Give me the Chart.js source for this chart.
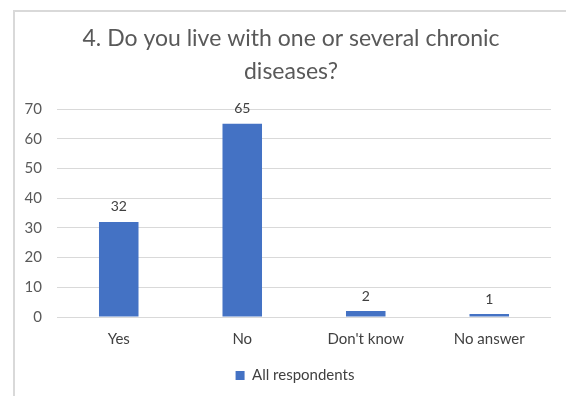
<!DOCTYPE html>
<html>
<head>
<meta charset="utf-8">
<script src="https://cdn.jsdelivr.net/npm/chart.js@4"></script>
<style>
  html, body { margin: 0; padding: 0; background: #fff; overflow: hidden; }
  #wrap {
    position: absolute; left: 13px; top: 10px;
    width: 551px; height: 384px;
    border-left: 2px solid #d9d9d9; border-top: 2px solid #d9d9d9;
  }
</style>
</head>
<body>
<div id="wrap"><canvas id="chronicChart"></canvas></div>
<script>
const categories = ['Yes', 'No', "Don't know", 'No answer'];
const respondents = [32, 65, 2, 1];
const titleLines = ['4. Do you live with one or several chronic', 'diseases?'];

// chart title, drawn by hand so the two lines sit where the original has them
const titleDraw = {
    id: 'titleDraw',
    afterDraw(chart) {
        const ctx = chart.ctx;
        ctx.save();
        ctx.font = "23px Lato, sans-serif";
        ctx.fillStyle = '#595959';
        ctx.textAlign = 'center';
        ctx.textBaseline = 'middle';
        ctx.fillText(titleLines[0], 276, 27);
        ctx.fillText(titleLines[1], 276, 60);
        ctx.restore();
    }
};

// nudge the legend a little to the right
const legendShift = {
    id: 'legendShift',
    afterLayout(chart) {
        chart.legend.left += 12;
        chart.legend.right += 12;
    }
};

// value above each bar
const barLabels = {
    id: 'barLabels',
    afterDatasetsDraw(chart) {
        const ctx = chart.ctx;
        ctx.save();
        ctx.font = "14px Lato, sans-serif";
        ctx.fillStyle = '#404040';
        ctx.textAlign = 'center';
        ctx.textBaseline = 'bottom';
        chart.getDatasetMeta(0).data.forEach(function(bar, i) {
            ctx.fillText(respondents[i], bar.x, bar.y - 8);
        });
        ctx.restore();
    }
};

const ctx = document.getElementById('chronicChart').getContext('2d');
const chronicChart = new Chart(ctx, {
    type: 'bar',
    data: {
        labels: categories,
        datasets: [{
            label: 'All respondents',
            data: respondents,
            backgroundColor: '#4472c4',
            categoryPercentage: 1,
            barPercentage: 0.32
        }]
    },
    options: {
        responsive: true,
        maintainAspectRatio: false,
        animation: false,
        layout: {
            padding: { left: 0, right: 15, top: 97, bottom: 3 }
        },
        plugins: {
            title: { display: false },
            legend: {
                position: 'bottom',
                labels: {
                    boxWidth: 9,
                    boxHeight: 9,
                    padding: 10,
                    color: '#404040',
                    font: { family: 'Lato, sans-serif', size: 15 }
                }
            },
            tooltip: { enabled: false }
        },
        scales: {
            x: {
                grid: { display: false, drawTicks: false },
                border: { display: false },
                afterFit: function(scale) { scale.height = 41; },
                ticks: {
                    color: '#404040',
                    padding: 13,
                    font: { family: 'Lato, sans-serif', size: 15 }
                }
            },
            y: {
                min: 0,
                max: 70,
                border: { display: false },
                grid: { color: '#d9d9d9', drawTicks: false },
                afterFit: function(scale) { scale.width = 42; },
                ticks: {
                    stepSize: 10,
                    padding: 15,
                    color: '#595959',
                    font: { family: 'Lato, sans-serif', size: 15 }
                }
            }
        }
    },
    plugins: [barLabels, titleDraw, legendShift]
});
</script>
</body>
</html>
